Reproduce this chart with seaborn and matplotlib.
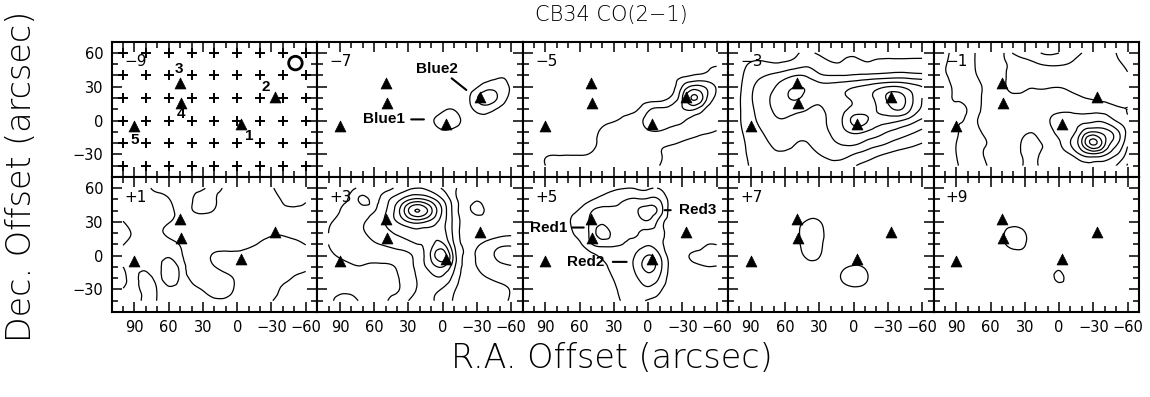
import numpy as np
import matplotlib
matplotlib.use("Agg")
import matplotlib.pyplot as plt
import matplotlib.tri as mtri
import seaborn as sns

# ---------------- data ----------------
grid_x = [100, 90, 80, 70, 60, 50, 40, 30, 20, 10, 0, -10, -20, -30, -40, -50, -60]
grid_y = [60, 50, 40, 30, 20, 10, 0, -10, -20, -30, -40]

channel_labels = ["\u22129", "\u22127", "\u22125", "\u22123", "\u22121", "+1", "+3", "+5", "+7", "+9"]

src_x = [-3, -33, 50, 49, 90]
src_y = [-3, 21, 33, 16, -5]
src_names = ["1", "2", "3", "4", "5"]
src_name_x = [-10.5, -25.2, 50.7, 49.4, 90.2]
src_name_y = [-13.8, 30.0, 45.5, 5.8, -17.3]

obs_x = [100, 80, 60, 40, 20, 0, -20, -40, -60]
obs_y = [60, 40, 20, 0, -20, -40]

beam_x = [-51]
beam_y = [51]

field_m7 = [
 [0.3,0.3,0.3,0.3,0.3,0.3,0.3,0.3,0.3,0.3,0.3,0.3,0.3,0.3,0.3,0.4,0.4],
 [0.3,0.3,0.3,0.3,0.3,0.3,0.3,0.3,0.3,0.3,0.3,0.3,0.3,0.3,0.4,0.5,0.5],
 [0.3,0.3,0.3,0.3,0.3,0.3,0.3,0.3,0.3,0.3,0.3,0.3,0.3,0.4,0.6,0.9,0.8],
 [0.3,0.3,0.3,0.3,0.3,0.3,0.3,0.3,0.3,0.3,0.3,0.3,0.4,0.9,1.6,1.5,0.85],
 [0.3,0.3,0.3,0.3,0.3,0.3,0.3,0.3,0.3,0.3,0.3,0.4,0.6,1.9,2.6,1.7,0.7],
 [0.3,0.3,0.3,0.3,0.3,0.3,0.3,0.3,0.3,0.3,0.8,0.95,0.6,1.3,1.4,0.8,0.5],
 [0.3,0.3,0.3,0.3,0.3,0.3,0.3,0.3,0.3,0.8,1.5,1.4,0.7,0.5,0.5,0.4,0.3],
 [0.3,0.3,0.3,0.3,0.3,0.3,0.3,0.3,0.3,0.4,0.85,0.7,0.5,0.3,0.3,0.3,0.3],
 [0.3,0.3,0.3,0.3,0.3,0.3,0.3,0.3,0.3,0.3,0.4,0.3,0.3,0.3,0.3,0.3,0.3],
 [0.3,0.3,0.3,0.3,0.3,0.3,0.3,0.3,0.3,0.3,0.3,0.3,0.3,0.3,0.3,0.3,0.3],
 [0.3,0.3,0.3,0.3,0.3,0.3,0.3,0.3,0.3,0.3,0.3,0.3,0.3,0.3,0.3,0.3,0.3],
]

field_m5 = [
 [0.3,0.3,0.3,0.3,0.3,0.3,0.3,0.3,0.3,0.3,0.3,0.35,0.4,0.45,0.5,0.6,0.7],
 [0.3,0.3,0.3,0.3,0.3,0.3,0.3,0.3,0.35,0.4,0.45,0.5,0.55,0.65,0.75,0.85,0.9],
 [0.3,0.3,0.3,0.3,0.3,0.3,0.35,0.4,0.45,0.5,0.55,0.65,0.75,0.85,1.05,1.2,1.5],
 [0.3,0.3,0.3,0.3,0.3,0.35,0.4,0.45,0.5,0.6,0.65,0.7,0.7,2.05,3.3,2.9,1.85],
 [0.3,0.3,0.3,0.3,0.35,0.4,0.45,0.5,0.55,0.6,0.6,0.6,1.15,3.0,5.2,3.4,1.7],
 [0.3,0.3,0.3,0.35,0.4,0.45,0.5,0.6,0.7,0.9,1.8,2.2,2.3,2.9,3.1,1.9,1.3],
 [0.3,0.3,0.35,0.4,0.5,0.6,0.8,0.95,1.2,1.6,2.3,2.4,2.2,2.1,1.6,1.3,1.2],
 [0.3,0.35,0.4,0.5,0.6,0.8,1.1,1.3,1.4,1.6,1.9,1.95,1.8,1.6,1.3,1.1,0.95],
 [0.3,0.4,0.5,0.6,0.7,0.8,1.2,1.3,1.3,1.3,1.3,1.2,1.1,0.9,0.7,0.6,0.5],
 [0.5,0.9,0.96,0.97,0.97,1.05,1.3,1.3,1.3,1.25,1.2,1.05,0.8,0.6,0.5,0.4,0.3],
 [0.7,1.0,1.2,1.2,1.25,1.3,1.3,1.3,1.3,1.2,1.1,1.0,0.7,0.5,0.4,0.3,0.3],
]

field_m3 = [
 [0.3,0.5,0.6,0.6,0.7,0.9,1.1,0.9,0.7,0.7,0.8,0.7,0.6,0.6,0.6,0.6,0.6],
 [0.6,1.1,1.2,1.1,1.2,1.5,1.8,1.4,1.1,1.1,1.3,1.1,1.2,1.3,1.3,1.3,1.3],
 [0.7,1.5,1.9,2.2,2.6,3.0,2.8,2.2,2.0,2.0,2.1,2.2,2.3,2.4,2.5,2.4,2.3],
 [0.8,1.8,2.4,2.9,3.6,4.0,3.8,3.4,3.4,3.6,3.9,4.2,4.6,5.0,5.0,4.5,4.0],
 [0.9,1.9,2.6,3.2,3.8,4.1,3.6,3.3,3.5,3.8,4.2,4.6,5.2,6.2,6.5,5.3,4.0],
 [0.9,1.8,2.5,3.1,3.4,3.3,3.0,2.9,3.2,3.7,4.3,4.6,5.0,5.6,6.1,5.0,3.8],
 [0.9,1.7,2.3,2.8,2.9,2.6,2.5,2.7,3.2,4.0,5.3,5.2,4.6,4.4,4.1,3.5,2.8],
 [0.8,1.5,2.0,2.4,2.5,2.3,2.2,2.5,3.1,3.7,4.2,4.0,3.5,3.0,2.6,2.2,1.8],
 [0.7,1.3,1.8,2.1,2.2,2.0,2.0,2.3,2.8,3.1,3.2,2.8,2.4,2.0,1.6,1.3,1.0],
 [0.6,1.2,1.6,1.9,1.9,1.8,1.8,2.0,2.3,2.4,2.0,1.6,1.2,0.9,0.7,0.6,0.5],
 [0.5,1.1,1.4,1.6,1.6,1.5,1.5,1.6,1.8,1.5,1.1,0.8,0.6,0.5,0.5,0.4,0.4],
]

field_m1 = [
 [0.8,1.3,1.7,2.2,2.6,2.8,4.1,4.5,4.8,5.2,5.0,4.6,4.0,3.6,3.3,3.0,2.7],
 [0.95,1.3,1.7,2.2,2.6,2.8,3.3,3.6,3.9,4.1,4.1,3.9,3.5,3.3,3.2,3.1,2.9],
 [0.95,1.2,1.6,2.1,2.5,2.8,3.3,3.3,3.3,3.4,3.4,3.3,3.3,3.3,3.2,3.2,3.05],
 [0.8,1.1,1.4,1.9,2.3,2.8,3.2,3.1,3.05,3.05,3.02,3.1,3.2,3.3,3.3,3.2,3.2],
 [0.8,1.05,1.3,1.9,2.3,2.7,2.85,2.8,2.75,2.7,2.7,2.8,2.95,3.1,3.2,3.2,3.15],
 [0.8,0.9,1.05,1.9,2.3,2.5,2.6,2.6,2.6,2.7,2.8,2.8,2.75,2.75,2.8,2.9,3.0],
 [0.8,0.95,1.2,2.1,2.2,2.4,2.5,2.6,2.75,2.9,3.4,3.5,3.6,3.8,3.7,2.95,2.9],
 [0.8,0.95,1.3,1.9,2.2,2.3,2.6,2.9,2.9,2.7,3.3,3.6,5.0,6.0,5.5,4.4,2.7],
 [0.8,1.0,1.4,1.8,2.1,2.4,2.7,3.15,3.15,2.8,2.9,4.0,6.0,8.3,6.2,4.3,2.2],
 [0.8,1.0,1.3,1.8,2.2,2.3,2.7,3.1,3.1,2.8,2.8,3.0,4.2,4.8,4.2,3.1,1.6],
 [0.8,0.95,1.3,1.7,2.1,2.2,2.6,3.05,3.05,2.7,2.6,2.5,2.5,2.6,2.4,2.0,0.9],
]

field_p1 = [
 [1.5,1.5,1.7,2.3,2.5,2.5,2.3,2.15,1.6,2.2,2.5,2.5,2.4,2.1,1.6,1.5,1.6],
 [1.5,1.5,1.5,1.7,1.95,2.5,2.1,1.5,1.85,2.5,2.6,2.6,2.5,2.3,1.9,1.6,1.9],
 [1.5,1.5,1.5,1.6,1.8,2.2,2.05,1.8,2.05,2.5,2.6,2.6,2.6,2.5,2.2,2.2,2.3],
 [2.05,1.5,1.6,1.7,1.95,2.3,2.5,2.5,2.5,2.5,2.6,2.6,2.6,2.4,2.4,2.4,2.4],
 [2.5,1.8,1.5,1.75,2.2,2.5,2.6,2.6,2.5,2.5,2.5,2.45,2.3,2.1,2.1,2.2,2.2],
 [2.05,1.6,1.5,1.5,1.7,2.05,2.5,2.6,2.6,2.5,2.4,2.2,1.9,1.7,1.7,1.8,2.02],
 [1.6,1.5,1.5,1.6,1.9,1.9,2.5,2.5,1.8,1.6,1.7,1.6,1.5,1.5,1.5,1.5,1.6],
 [2.0,1.6,1.7,1.6,2.5,1.9,2.4,2.5,2.05,1.6,1.5,1.5,1.5,1.5,1.5,1.6,1.8],
 [2.5,1.7,2.4,1.8,2.5,1.9,2.2,2.5,2.5,2.3,1.8,1.5,1.5,1.5,1.7,2.1,2.3],
 [1.9,1.6,2.4,1.95,1.8,1.6,1.7,2.05,2.5,2.4,1.8,1.5,1.5,1.6,2.2,2.5,2.5],
 [1.6,1.6,2.3,1.95,1.6,1.5,1.6,1.8,1.8,1.8,1.6,1.5,1.6,1.95,2.4,2.5,2.5],
]

field_p3 = [
 [0.3,0.5,0.7,1.1,1.2,1.6,2.2,2.8,3.0,2.6,1.9,1.2,0.6,0.5,0.5,0.5,0.5],
 [0.5,0.8,1.3,2.2,1.8,2.6,3.6,4.8,5.2,4.4,3.0,1.4,0.6,0.9,0.6,0.5,0.5],
 [0.7,1.0,1.3,1.7,1.95,2.9,4.5,7.0,8.0,6.2,3.8,1.6,0.7,1.25,0.7,0.6,0.5],
 [0.9,1.2,1.5,1.9,2.4,3.1,4.0,5.0,5.3,4.6,3.4,1.7,0.6,0.5,0.5,0.5,0.5],
 [1.0,1.3,1.6,1.9,2.3,2.7,3.1,3.4,3.6,3.7,3.4,1.7,0.6,0.5,0.55,0.7,0.8],
 [1.0,1.2,1.4,1.6,1.9,2.1,2.4,2.7,3.0,3.7,4.2,2.0,0.8,0.9,1.3,1.75,1.85],
 [0.9,1.05,1.2,1.3,1.4,1.4,1.5,1.8,2.6,4.2,5.6,2.6,0.9,1.05,1.6,2.3,2.4],
 [0.7,0.8,0.9,0.95,0.85,0.9,1.05,1.6,2.5,3.5,4.0,2.2,0.8,1.0,1.4,1.7,1.9],
 [0.6,0.7,0.7,0.75,0.8,0.9,0.95,1.5,2.2,2.7,2.8,1.6,0.7,0.8,1.0,1.2,1.3],
 [0.8,0.9,0.9,0.8,0.7,0.8,0.9,1.6,2.1,2.2,1.9,1.1,0.6,0.6,0.7,0.8,1.05],
 [0.9,1.1,1.1,0.9,0.7,0.9,1.5,2.0,2.3,2.1,1.6,0.9,0.5,0.5,0.6,0.8,1.1],
]

field_p5 = [
 [0.3,0.3,0.3,0.4,0.5,0.6,0.7,0.85,0.97,0.9,0.85,0.95,0.6,0.4,0.3,0.3,0.3],
 [0.3,0.3,0.3,0.3,0.5,0.9,1.3,1.6,1.95,2.1,2.15,1.95,0.6,0.3,0.3,0.3,0.3],
 [0.3,0.3,0.4,0.7,1.1,1.9,2.3,2.2,2.3,2.9,3.4,2.6,0.5,0.3,0.3,0.3,0.3],
 [0.3,0.3,0.5,0.9,1.4,2.2,2.8,2.5,2.4,2.5,2.85,1.6,0.5,0.3,0.3,0.3,0.3],
 [0.3,0.3,0.4,0.8,1.3,2.3,3.5,2.6,2.3,2.1,1.7,1.4,0.5,0.3,0.3,0.3,0.3],
 [0.3,0.3,0.3,0.5,0.8,1.9,2.3,2.2,1.9,1.7,1.9,1.3,0.5,0.3,0.4,0.9,0.97],
 [0.3,0.3,0.3,0.4,0.5,0.7,1.2,1.3,1.4,2.2,3.05,2.1,0.6,0.6,1.2,1.3,1.3],
 [0.3,0.3,0.3,0.3,0.4,0.6,0.8,1.2,1.4,2.4,3.3,2.4,0.7,0.5,0.7,0.95,0.95],
 [0.3,0.3,0.3,0.3,0.3,0.4,0.6,1.05,1.4,1.9,2.6,1.9,0.6,0.4,0.4,0.4,0.4],
 [0.3,0.3,0.3,0.3,0.3,0.3,0.5,0.9,1.2,1.5,1.8,1.2,0.5,0.3,0.3,0.3,0.3],
 [0.3,0.3,0.3,0.3,0.3,0.3,0.4,0.8,1.1,1.2,0.9,0.6,0.4,0.3,0.3,0.3,0.3],
]

field_p7 = [
 [0.4,0.4,0.4,0.4,0.4,0.4,0.4,0.4,0.4,0.4,0.4,0.4,0.4,0.4,0.4,0.4,0.4],
 [0.4,0.4,0.4,0.4,0.4,0.4,0.4,0.4,0.4,0.4,0.4,0.4,0.4,0.4,0.4,0.4,0.4],
 [0.4,0.4,0.4,0.4,0.4,0.5,0.6,0.55,0.4,0.4,0.4,0.4,0.4,0.4,0.4,0.4,0.4],
 [0.4,0.4,0.4,0.4,0.5,0.75,1.1,1.05,0.5,0.4,0.4,0.4,0.4,0.4,0.4,0.4,0.4],
 [0.4,0.4,0.4,0.4,0.5,0.8,1.5,1.3,0.6,0.4,0.4,0.4,0.4,0.4,0.4,0.4,0.4],
 [0.4,0.4,0.4,0.4,0.5,0.8,1.4,1.2,0.6,0.4,0.4,0.4,0.4,0.4,0.4,0.4,0.4],
 [0.4,0.4,0.4,0.4,0.4,0.7,1.15,1.05,0.5,0.4,0.5,0.4,0.4,0.4,0.4,0.4,0.4],
 [0.4,0.4,0.4,0.4,0.4,0.5,0.7,0.6,0.4,0.8,1.1,0.9,0.4,0.4,0.4,0.4,0.4],
 [0.4,0.4,0.4,0.4,0.4,0.4,0.4,0.4,0.5,1.1,1.5,1.2,0.5,0.4,0.4,0.4,0.4],
 [0.4,0.4,0.4,0.4,0.4,0.4,0.4,0.4,0.4,0.6,0.8,0.7,0.4,0.4,0.4,0.4,0.4],
 [0.4,0.4,0.4,0.4,0.4,0.4,0.4,0.4,0.4,0.4,0.4,0.4,0.4,0.4,0.4,0.4,0.4],
]

field_p9 = [
 [0.3,0.3,0.3,0.3,0.3,0.3,0.3,0.3,0.3,0.3,0.3,0.3,0.3,0.3,0.3,0.3,0.3],
 [0.3,0.3,0.3,0.3,0.3,0.3,0.3,0.3,0.3,0.3,0.3,0.3,0.3,0.3,0.3,0.3,0.3],
 [0.3,0.3,0.3,0.3,0.3,0.4,0.5,0.4,0.3,0.3,0.3,0.3,0.3,0.3,0.3,0.3,0.3],
 [0.3,0.3,0.3,0.3,0.4,0.6,0.7,0.6,0.4,0.3,0.3,0.3,0.3,0.3,0.3,0.3,0.3],
 [0.3,0.3,0.3,0.3,0.4,0.85,1.4,1.05,0.4,0.3,0.3,0.3,0.3,0.3,0.3,0.3,0.3],
 [0.3,0.3,0.3,0.3,0.4,0.8,1.3,1.05,0.4,0.3,0.3,0.3,0.3,0.3,0.3,0.3,0.3],
 [0.3,0.3,0.3,0.3,0.3,0.5,0.6,0.6,0.3,0.3,0.3,0.3,0.3,0.3,0.3,0.3,0.3],
 [0.3,0.3,0.3,0.3,0.3,0.3,0.3,0.3,0.3,0.3,0.75,0.3,0.3,0.3,0.3,0.3,0.3],
 [0.3,0.3,0.3,0.3,0.3,0.3,0.3,0.3,0.3,0.3,1.25,0.3,0.3,0.3,0.3,0.3,0.3],
 [0.3,0.3,0.3,0.3,0.3,0.3,0.3,0.3,0.3,0.3,0.4,0.3,0.3,0.3,0.3,0.3,0.3],
 [0.3,0.3,0.3,0.3,0.3,0.3,0.3,0.3,0.3,0.3,0.3,0.3,0.3,0.3,0.3,0.3,0.3],
]

channel_fields = [None, field_m7, field_m5, field_m3, field_m1,
                  field_p1, field_p3, field_p5, field_p7, field_p9]
contour_levels = [1, 2, 3, 4, 5, 6, 7, 8, 9]

# annotations: (panel, text, text_x, text_y, ha, line_x0, line_y0, line_x1, line_y1)
outflow_labels = [
    (1, "Blue1", 33, 1, "right", 30, 1, 14, 1),
    (1, "Blue2", 4.6, 45.5, "center", -6, 39, -22.6, 25.6),
    (7, "Red1", 71, 25, "right", 69, 25, 54, 25),
    (7, "Red2", 38.6, -5.5, "right", 33.4, -5.5, 16.4, -5.5),
    (7, "Red3", -26.6, 40.4, "left", -12, 40.4, -22.2, 40.4),
]

# ---------------- plotting ----------------
sns.set_theme(style="white")
plt.rcParams['font.family'] = ['DejaVu Sans']
plt.rcParams['axes.unicode_minus'] = True
for key in ["text.color", "axes.labelcolor", "xtick.color", "ytick.color", "axes.edgecolor"]:
    plt.rcParams[key] = "black"

fig = plt.figure(figsize=(11.5, 3.97), dpi=100)
gs = fig.add_gridspec(2, 5, left=0.0971, right=0.9904, top=0.895, bottom=0.2141,
                      wspace=0, hspace=0)

gx, gy = np.meshgrid(np.array(grid_x, float), np.array(grid_y, float))
ny, nx = gx.shape
tris = []
for j in range(ny - 1):
    for i in range(nx - 1):
        a = j * nx + i
        b = a + 1
        c = a + nx
        d = c + 1
        tris.append([a, b, d])
        tris.append([a, d, c])
triang = mtri.Triangulation(gx.ravel(), gy.ravel(), np.array(tris))
refiner = mtri.UniformTriRefiner(triang)

axes = []
for k in range(10):
    r, c = divmod(k, 5)
    ax = fig.add_subplot(gs[r, c])
    axes.append(ax)
    ax.set_facecolor("white")
    ax.set_xlim(110, -70)
    ax.set_ylim(-50, 70)

    fld = channel_fields[k]
    if fld is not None:
        z = np.array(fld, float).ravel()
        tf, zf = refiner.refine_field(z, subdiv=3)
        ax.tricontour(tf, zf, levels=contour_levels, colors="black",
                      linewidths=0.9, linestyles="solid")

    if k == 0:
        ox, oy = np.meshgrid(obs_x, obs_y)
        sns.scatterplot(x=ox.ravel(), y=oy.ravel(), marker="+", s=55, color="black",
                        linewidth=1.4, ax=ax, legend=False, zorder=4)
        sns.scatterplot(x=beam_x, y=beam_y, marker="o", s=95, facecolor="none",
                        edgecolor="black", linewidth=2.0, ax=ax, legend=False, zorder=4)
        for nm, tx, ty in zip(src_names, src_name_x, src_name_y):
            ax.text(tx, ty, nm, fontsize=11, fontweight="bold", ha="center",
                    va="center", color="black",
                    family=["Liberation Sans", "DejaVu Sans"], zorder=6)

    sns.scatterplot(x=src_x, y=src_y, marker="^", s=62, color="black",
                    edgecolor="black", linewidth=0.5, ax=ax, legend=False, zorder=5)

    ax.text(0.06, 0.85, channel_labels[k], transform=ax.transAxes, fontsize=11,
            ha="left", va="center", color="black", zorder=6)

    ax.set_xticks([90, 60, 30, 0, -30, -60])
    ax.set_xticks(np.arange(-60, 101, 10), minor=True)
    ax.set_yticks([60, 30, 0, -30])
    ax.set_yticks(np.arange(-40, 61, 10), minor=True)
    ax.tick_params(which="both", direction="in", top=True, right=True,
                   bottom=True, left=True, color="black", width=1.1)
    ax.tick_params(which="major", length=7, labelsize=10.5, pad=6,
                   labelcolor="black")
    ax.tick_params(which="minor", length=4)
    if c != 0:
        ax.set_yticklabels([])
    if r != 1:
        ax.set_xticklabels([])
    for sp in ax.spines.values():
        sp.set_color("black")
        sp.set_linewidth(1.5)
    ax.set_xlabel("")
    ax.set_ylabel("")

for (pk, txt, tx, ty, ha, x0, y0, x1, y1) in outflow_labels:
    ax = axes[pk]
    ax.text(tx, ty, txt, fontsize=11, fontweight="bold", ha=ha, va="center",
            color="black", family=["Liberation Sans", "DejaVu Sans"], zorder=6)
    ax.annotate("", xy=(x1, y1), xytext=(x0, y0),
                arrowprops=dict(arrowstyle="-", color="black", lw=1.5), zorder=6)

fig.text(0.532, 0.962, "CB34 CO(2\u22121)", ha="center", va="center", fontsize=15,
         fontweight="light", color="black")
fig.text(0.532, 0.098, "R.A. Offset (arcsec)", ha="center", va="center", fontsize=24,
         fontweight="light", color="black")
fig.text(0.019, 0.555, "Dec. Offset (arcsec)", ha="center", va="center", fontsize=24,
         rotation=90, fontweight="light", color="black")

fig.savefig("out.png", dpi=100, facecolor="white")
